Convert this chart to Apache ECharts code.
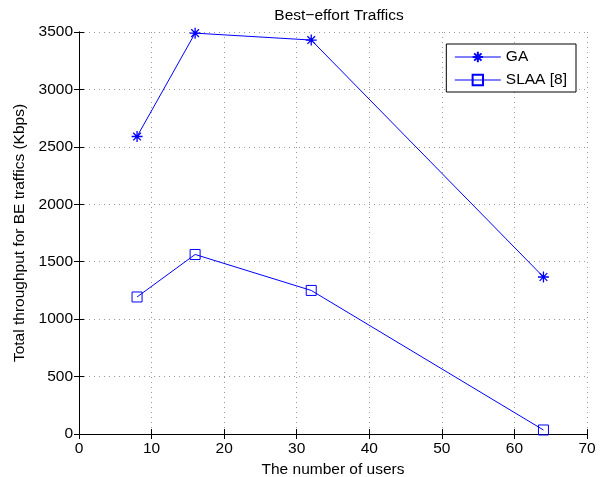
<!DOCTYPE html>
<html><head><meta charset="utf-8">
<script src="https://cdn.jsdelivr.net/npm/echarts@6/dist/echarts.min.js"></script>
<style>html,body{margin:0;padding:0;background:#fff}#c{width:604px;height:477px}</style>
</head><body><div id="c"></div>
<script>
const users = [8, 16, 32, 64];
const gaValues = [2590, 3490, 3430, 1367];
const slaaValues = [1193, 1563, 1250, 35];
const xTicks = [0, 10, 20, 30, 40, 50, 60, 70];
const yTicks = [0, 500, 1000, 1500, 2000, 2500, 3000, 3500];
const seriesNames = ['GA', 'SLAA [8]'];
const titleText = 'Best\u2212effort Traffics';
const xName = 'The number of users';
const yName = 'Total throughput for BE traffics (Kbps)';

const font = 'Liberation Sans, Arial, Helvetica, sans-serif';
const fs = 15.5;
const blue = '#0000ff';
const star = 'path://M5,0 L5,10 M0,5 L10,5 M1.5,1.5 L8.5,8.5 M8.5,1.5 L1.5,8.5';

const mkX = (pos, show) => ({
  type: 'value', position: pos, min: xTicks[0], max: xTicks[xTicks.length-1], interval: 10,
  name: show ? xName : '', nameLocation: 'middle', nameGap: 23,
  nameTextStyle: {color: '#000', fontSize: fs, fontFamily: font},
  axisLine: {show: true, lineStyle: {color: '#000', width: 1}},
  axisTick: {show: true, inside: true, length: 5, lineStyle: {color: '#000'}},
  axisLabel: {show: show, color: '#000', fontSize: fs, fontFamily: font, margin: 7,
    formatter: v => String(v)},
  splitLine: {show: show, lineStyle: {color: '#999', type: [1, 4], width: 1}}
});
const mkY = (pos, show) => ({
  type: 'value', position: pos, min: yTicks[0], max: yTicks[yTicks.length-1], interval: 500,
  name: show ? yName : '', nameLocation: 'middle', nameGap: 48, nameRotate: 90,
  nameTextStyle: {color: '#000', fontSize: fs, fontFamily: font},
  axisLine: {show: true, lineStyle: {color: '#000', width: 1}},
  axisTick: {show: true, inside: true, length: 5, lineStyle: {color: '#000'}},
  axisLabel: {show: show, color: '#000', fontSize: fs, fontFamily: font, margin: 6,
    formatter: v => String(v)},
  splitLine: {show: show, lineStyle: {color: '#999', type: [1, 4], width: 1}}
});

const chart = echarts.init(document.getElementById('c'), null, {renderer: 'canvas'});
chart.setOption({
  animation: false,
  backgroundColor: '#fff',
  title: {text: titleText, left: 334, top: 3, textAlign: 'center',
    textStyle: {color: '#000', fontSize: fs, fontWeight: 'normal', fontFamily: font}},
  grid: {left: 79, right: 17, top: 32, bottom: 43, containLabel: false, outerBoundsMode: 'none'},
  xAxis: [mkX('bottom', true), mkX('top', false)],
  yAxis: [mkY('left', true), mkY('right', false)],
  legend: {
    right: 28, top: 44, orient: 'vertical', itemWidth: 46, itemHeight: 13, itemGap: 7,
    padding: [5, 9, 4, 8], borderColor: '#000', borderWidth: 1, backgroundColor: '#fff',
    lineStyle: {width: 1},
    textStyle: {color: '#000', fontSize: fs, fontFamily: font},
    data: seriesNames
  },
  series: [
    {name: seriesNames[0], type: 'line', data: users.map((u, i) => [u, gaValues[i]]),
      symbol: star, symbolSize: 11, showAllSymbol: true,
      lineStyle: {color: blue, width: 1},
      itemStyle: {color: blue, borderColor: blue, borderWidth: 1.3}},
    {name: seriesNames[1], type: 'line', data: users.map((u, i) => [u, slaaValues[i]]),
      symbol: 'rect', symbolSize: 10, showAllSymbol: true,
      lineStyle: {color: blue, width: 1},
      itemStyle: {color: 'rgba(0,0,0,0)', borderColor: blue, borderWidth: 1}}
  ]
});
</script></body></html>
